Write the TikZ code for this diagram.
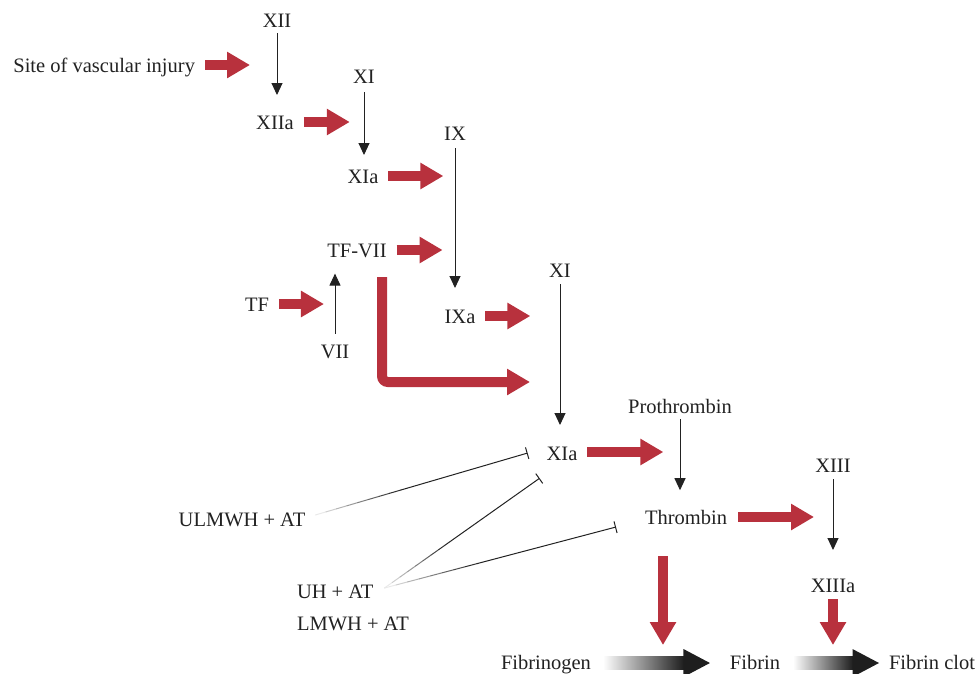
\documentclass[tikz,border=0pt]{standalone}
\usepackage{fontspec}
\setmainfont{Liberation Serif}
\usetikzlibrary{arrows.meta,calc}
\definecolor{cgred}{RGB}{184,49,61}
\definecolor{cgink}{RGB}{34,34,34}
\definecolor{cgdark}{RGB}{30,30,30}
\newcommand{\cgfadeline}[2]{%
  \foreach \k in {0,...,7} {
    \pgfmathsetmacro{\cgk}{10+\k*12}
    \draw[cgink!\cgk, line width=1pt, line cap=round] ($(#1)!\k*0.05!(#2)$) -- ($(#1)!\k*0.05+0.05!(#2)$);
  }
  \draw[cgblock] ($(#1)!0.4!(#2)$) -- (#2);
}
\newcommand{\cgfibarrow}[2]{%
  \shade[left color=white, middle color=cgdark, right color=cgdark] ([yshift=6.5pt]#1) rectangle ([xshift=-26pt,yshift=-6.5pt]#2);
  \fill[cgdark] ([xshift=-26.5pt,yshift=14pt]#2) -- (#2) -- ([xshift=-26.5pt,yshift=-14pt]#2) -- cycle;
}
\tikzset{
  cgtext/.style={inner sep=0pt, outer sep=0pt, text=cgink, font=\fontsize{20.5}{24}\selectfont},
  cgred/.style={draw=cgred, line width=10pt, -{Triangle[length=23pt,width=25pt]}},
  cgthin/.style={draw=cgink, line width=1pt, -{Triangle[length=12pt,width=11pt]}},
  cgblock/.style={draw=cgink, line width=1pt, -{Bar[width=12pt]}}
}
\begin{document}
\begin{tikzpicture}[x=1pt, y=-1pt]
  \useasboundingbox (0,0) rectangle (980,673);
  \node[cgtext, anchor=base east] (site) at (195,72) {Site of vascular injury};
  \node[cgtext, anchor=base] (xii) at (277,27) {XII};
  \node[cgtext, anchor=base] (xiia) at (275,129) {XIIa};
  \node[cgtext, anchor=base] (xi) at (364,83) {XI};
  \node[cgtext, anchor=base] (xia) at (363,183) {XIa};
  \node[cgtext, anchor=base] (ix) at (455,140) {IX};
  \node[cgtext, anchor=base] (tfvii) at (357,257) {TF-VII};
  \node[cgtext, anchor=base] (tf) at (257,311) {TF};
  \node[cgtext, anchor=base] (vii) at (335,358) {VII};
  \node[cgtext, anchor=base] (ixa) at (460,323) {IXa};
  \node[cgtext, anchor=base] (xib) at (560,277) {XI};
  \node[cgtext, anchor=base] (xiab) at (562,460) {XIa};
  \node[cgtext, anchor=base] (prothr) at (680,413) {Prothrombin};
  \node[cgtext, anchor=base] (thromb) at (686,524) {Thrombin};
  \node[cgtext, anchor=base] (xiii) at (833,472) {XIII};
  \node[cgtext, anchor=base] (xiiia) at (833,592) {XIIIa};
  \node[cgtext, anchor=base] (fibgen) at (546,669) {Fibrinogen};
  \node[cgtext, anchor=base] (fibrin) at (755,669) {Fibrin};
  \node[cgtext, anchor=base west] (clot) at (889,669) {Fibrin clot};
  \node[cgtext, anchor=base] (ulmwh) at (242,526) {ULMWH + AT};
  \node[cgtext, anchor=base west] (uh) at (297,598) {UH + AT};
  \node[cgtext, anchor=base west] (lmwh) at (297,630) {LMWH + AT};

  \draw[cgthin] ([yshift=-6pt]xii.south) -- ++(0,62);
  \draw[cgthin] ([yshift=-9pt]xi.south) -- ++(0,63);
  \draw[cgthin] ([yshift=-8pt]ix.south) -- ++(0,140);
  \draw[cgthin] ([yshift=11pt]vii.north) -- ++(0,-60);
  \draw[cgthin] ([yshift=-7pt]xib.south) -- ++(0,141);
  \draw[cgthin] ([yshift=-6pt]prothr.south) -- ++(0,71);
  \draw[cgthin] ([yshift=-7pt]xiii.south) -- ++(0,71);

  \draw[cgred] ([xshift=10pt,yshift=7pt]site.base east) -- ++(45,0);
  \draw[cgred] ([xshift=10pt,yshift=7pt]xiia.base east) -- ++(46,0);
  \draw[cgred] ([xshift=10pt,yshift=7pt]xia.base east) -- ++(55,0);
  \draw[cgred] ([xshift=10pt,yshift=7pt]tfvii.base east) -- ++(46,0);
  \draw[cgred] ([xshift=10pt,yshift=7pt]tf.base east) -- ++(45,0);
  \draw[cgred] ([xshift=10pt,yshift=7pt]ixa.base east) -- ++(45,0);
  \draw[cgred] ([xshift=10pt,yshift=8pt]xiab.base east) -- ++(76,0);
  \draw[cgred] ([xshift=11pt,yshift=7pt]thromb.base east) -- ++(76,0);
  \draw[cgred, rounded corners=6pt] ([xshift=25pt,yshift=-20pt]tfvii.base) |- ++(148,105);
  \draw[cgred] ([xshift=-23pt,yshift=-32pt]thromb.base) -- ++(0,89);
  \draw[cgred] ([yshift=-7pt]xiiia.base) -- ++(0,46);

  \coordinate (fa) at ([xshift=12pt,yshift=6pt]fibgen.base east);
  \coordinate (fb) at ([xshift=-20pt,yshift=6pt]fibrin.base west);
  \coordinate (fc) at ([xshift=13pt,yshift=6pt]fibrin.base east);
  \coordinate (fd) at ([xshift=-10pt,yshift=6pt]clot.base west);
  \cgfibarrow{fa}{fb}
  \cgfibarrow{fc}{fd}

  \coordinate (ua) at ([xshift=10pt,yshift=11pt]ulmwh.base east);
  \coordinate (ub) at ([xshift=11pt,yshift=10pt]uh.base east);
  \coordinate (xa) at ([xshift=-19pt,yshift=7pt]xiab.base west);
  \coordinate (xb) at ([xshift=-7pt,yshift=-18pt]xiab.south west);
  \coordinate (ta) at ([xshift=-29pt,yshift=-3pt]thromb.base west);
  \cgfadeline{ua}{xa}
  \cgfadeline{ub}{xb}
  \cgfadeline{ub}{ta}
\end{tikzpicture}
\end{document}
